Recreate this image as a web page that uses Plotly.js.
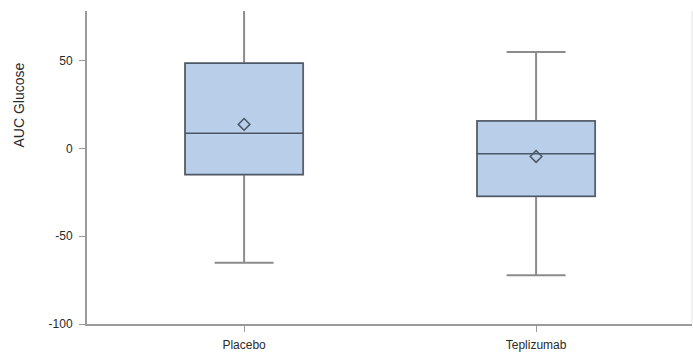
<!DOCTYPE html>
<html>
<head>
<meta charset="utf-8">
<script src="https://cdn.plot.ly/plotly-3.0.1.min.js"></script>
<style>
  html, body { margin: 0; padding: 0; background: #fff; }
  #chart { width: 693px; height: 358px; }
</style>
</head>
<body>
<div id="chart"></div>
<script>
// Treatment groups and their summary statistics for AUC glucose
const groups      = ["Placebo", "Teplizumab"];
const q1Values    = [-14.9, -27.2];
const medianVals  = [8.7, -3.0];
const q3Values    = [48.6, 15.6];
const lowerFences = [-65.1, -72.2];
const upperFences = [92.0, 54.9];
const meanValues  = [13.7, -4.6];
const yTickVals   = [-100, -50, 0, 50];
const yTickText   = ["-100", "-50", "0", "50"];

const boxWidth = 0.404;
const fillColor = "rgb(185,207,233)";
const whiskerColor = "rgb(140,140,140)";
const outlineColor = "rgb(75,86,102)";

// Whiskers (grey) drawn with the full box trace
const whiskerTrace = {
  type: "box",
  x: groups,
  q1: q1Values,
  median: medianVals,
  q3: q3Values,
  lowerfence: lowerFences,
  upperfence: upperFences,
  width: boxWidth,
  whiskerwidth: 0.5,
  fillcolor: fillColor,
  line: { color: whiskerColor, width: 2 },
  hoverinfo: "skip",
  showlegend: false
};

// Box body with darker outline and median line on top
const bodyTrace = {
  type: "box",
  x: groups,
  q1: q1Values,
  median: medianVals,
  q3: q3Values,
  lowerfence: q1Values,
  upperfence: q3Values,
  width: boxWidth,
  whiskerwidth: 0,
  fillcolor: fillColor,
  line: { color: outlineColor, width: 1.5 },
  showlegend: false
};

// Group means as open diamonds
const meanTrace = {
  type: "scatter",
  mode: "markers",
  x: groups,
  y: meanValues,
  marker: { symbol: "diamond-open", size: 9, color: outlineColor, line: { width: 1.5, color: outlineColor } },
  showlegend: false
};

const layout = {
  width: 693,
  height: 358,
  margin: { l: 87, r: 1, t: 11, b: 34 },
  paper_bgcolor: "#fff",
  plot_bgcolor: "#fff",
  boxmode: "overlay",
  showlegend: false,
  font: { family: "Liberation Sans, Arial, sans-serif", size: 12, color: "#2a2a2a" },
  xaxis: {
    type: "category",
    range: [-0.538, 1.534],
    showgrid: false,
    zeroline: false,
    showline: true,
    linecolor: "#9a9a9a",
    linewidth: 2,
    ticks: "outside",
    ticklen: 6,
    tickcolor: "#9a9a9a",
    ticklabelstandoff: 3,
    tickfont: { size: 12, color: "#2a2a2a" }
  },
  yaxis: {
    range: [-100, 78.3],
    tickvals: yTickVals,
    ticktext: yTickText,
    showgrid: false,
    zeroline: false,
    showline: true,
    linecolor: "#9a9a9a",
    linewidth: 2,
    ticks: "outside",
    ticklen: 6,
    tickcolor: "#9a9a9a",
    ticklabelstandoff: 4,
    tickfont: { size: 12, color: "#2a2a2a" }
  },
  annotations: [
    { text: "AUC Glucose", textangle: -90, xref: "paper", yref: "paper",
      x: -0.113, y: 0.70, xanchor: "center", yanchor: "middle", showarrow: false,
      font: { size: 14, color: "#2a2a2a" } }
  ],
  shapes: [
    { type: "line", xref: "paper", yref: "paper", x0: 1, x1: 1, y0: 0, y1: 1,
      line: { color: "#e2e2e2", width: 1 } }
  ]
};

Plotly.newPlot("chart", [whiskerTrace, bodyTrace, meanTrace], layout, { displayModeBar: false, staticPlot: true });
</script>
</body>
</html>
